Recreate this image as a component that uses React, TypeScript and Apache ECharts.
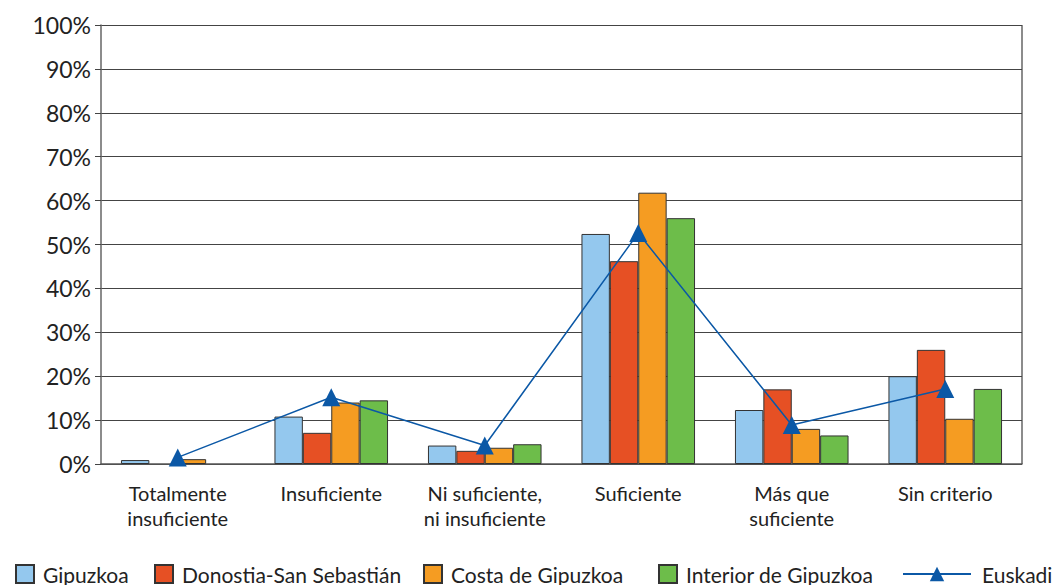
import React, { useEffect, useRef } from "react";
import * as echarts from "echarts";

const categories = [
  "Totalmente\ninsuficiente",
  "Insuficiente",
  "Ni suficiente,\nni insuficiente",
  "Suficiente",
  "Más que\nsuficiente",
  "Sin criterio",
];
const gipuzkoa = [0.9, 10.8, 4.2, 52.4, 12.3, 20.0];
const donostia = [null, 7.1, 3.0, 46.2, 17.0, 26.0];
const costa = [1.1, 14.0, 3.7, 61.8, 8.0, 10.3];
const interior = [null, 14.5, 4.5, 56.0, 6.5, 17.1];
const euskadi = [1.5, 15.2, 4.2, 52.6, 8.9, 17.1];
const yTicks = [0, 10, 20, 30, 40, 50, 60, 70, 80, 90, 100];

const FONT = "Lato";
const TXT = "#222";
const LEG_FONT = 21;

const barNames = ["Gipuzkoa", "Donostia-San Sebastián", "Costa de Gipuzkoa", "Interior de Gipuzkoa"];
const barLegendLeft = [15, 154, 423, 658];

export default function App() {
  const ref = useRef<HTMLDivElement>(null);
  useEffect(() => {
    document.body.style.margin = "0";
    const chart = echarts.init(ref.current!, null, { renderer: "svg" });
    const bar = (name: string, data: (number | null)[], color: string) => ({
      name,
      type: "bar",
      data,
      barGap: "0%",
      barCategoryGap: "26%",
      itemStyle: { color, borderColor: "#333", borderWidth: 1 },
    });
    const legends: any[] = barNames.map((n, i) => ({
      left: barLegendLeft[i],
      top: 563,
      padding: 0,
      itemWidth: 18,
      itemHeight: 18,
      icon: "rect",
      textStyle: { fontFamily: FONT, fontSize: LEG_FONT, color: TXT, padding: [0, 0, 0, 4], lineHeight: 22 },
      data: [n],
    }));
    legends.push({
      left: 902,
      top: 563,
      padding: 0,
      itemWidth: 68,
      itemHeight: 18,
      textStyle: { fontFamily: FONT, fontSize: LEG_FONT, color: TXT, padding: [0, 0, 0, 6], lineHeight: 22 },
      data: ["Euskadi"],
    });
    chart.setOption({
      animation: false,
      backgroundColor: "#fff",
      textStyle: { fontFamily: FONT },
      grid: { left: 101, right: 35, top: 25, bottom: 121 },
      legend: legends,
      xAxis: {
        type: "category",
        data: categories,
        axisLine: { lineStyle: { color: "#555", width: 1.5 } },
        axisTick: { show: false },
        axisLabel: {
          fontFamily: FONT,
          fontSize: 20,
          color: TXT,
          lineHeight: 25,
          margin: 16,
          interval: 0,
        },
      },
      yAxis: {
        type: "value",
        min: 0,
        max: 100,
        interval: 10,
        axisLine: { show: true, lineStyle: { color: "#666", width: 1.5 } },
        axisTick: { show: true, length: 6, lineStyle: { color: "#444" } },
        splitLine: { lineStyle: { color: "#444", width: 1.2 } },
        axisLabel: {
          fontFamily: FONT,
          fontSize: 23,
          color: TXT,
          margin: 10,
          formatter: (v: number) => (yTicks.includes(v) ? v + "%" : ""),
        },
      },
      series: [
        bar(barNames[0], gipuzkoa, "#94C8EE"),
        bar(barNames[1], donostia, "#E65024"),
        bar(barNames[2], costa, "#F59C22"),
        bar(barNames[3], interior, "#6DBD4A"),
        {
          name: "Euskadi",
          type: "line",
          data: euskadi,
          symbol: "triangle",
          symbolSize: 18,
          lineStyle: { color: "#0B58A6", width: 1.5 },
          itemStyle: { color: "#0B58A6" },
          z: 5,
        },
      ],
      graphic: [
        {
          type: "line",
          shape: { x1: 1022, y1: 25, x2: 1022, y2: 464 },
          style: { stroke: "#666", lineWidth: 1.5 },
        },
      ],
    });
    return () => chart.dispose();
  }, []);
  return <div ref={ref} style={{ width: 1057, height: 585 }} />;
}
